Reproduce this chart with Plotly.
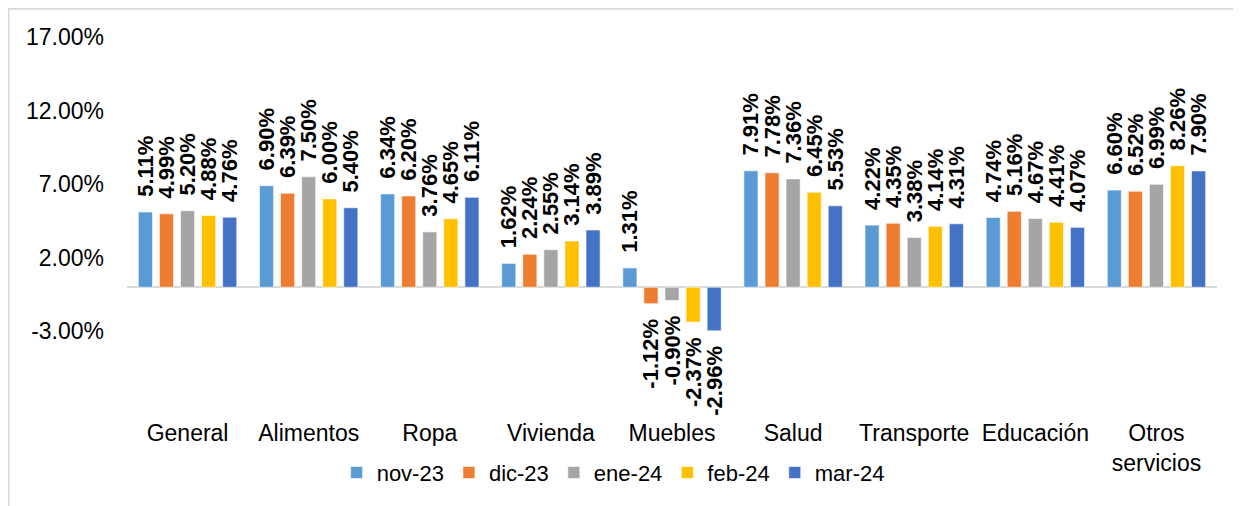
import plotly.graph_objects as go

categorias = ["General", "Alimentos", "Ropa", "Vivienda", "Muebles", "Salud",
              "Transporte", "Educación", "Otros<br>servicios"]
meses = ["nov-23", "dic-23", "ene-24", "feb-24", "mar-24"]

nov_23 = [5.11, 6.90, 6.34, 1.62, 1.31, 7.91, 4.22, 4.74, 6.60]
dic_23 = [4.99, 6.39, 6.20, 2.24, -1.12, 7.78, 4.35, 5.16, 6.52]
ene_24 = [5.20, 7.50, 3.76, 2.55, -0.90, 7.36, 3.38, 4.67, 6.99]
feb_24 = [4.88, 6.00, 4.65, 3.14, -2.37, 6.45, 4.14, 4.41, 8.26]
mar_24 = [4.76, 5.40, 6.11, 3.89, -2.96, 5.53, 4.31, 4.07, 7.90]

series = [nov_23, dic_23, ene_24, feb_24, mar_24]
colores = ["#5B9BD5", "#ED7D31", "#A5A5A5", "#FFC000", "#4472C4"]

y_ticks = [-3, 2, 7, 12, 17]
y_ticktext = [f"{v:.2f}%" for v in y_ticks]

FONT = "Arial, Liberation Sans, sans-serif"
pad = "\u00a0\u00a0"


def etiqueta(v):
    s = f"{v:.2f}%"
    return pad + s if v >= 0 else s + pad


fig = go.Figure()
for mes, vals, col in zip(meses, series, colores):
    fig.add_trace(go.Bar(
        name=mes,
        x=categorias,
        y=vals,
        marker=dict(color=col, line=dict(color="rgba(255,255,255,0.6)", width=1)),
        text=[etiqueta(v) for v in vals],
        textposition="outside",
        textangle=-90,
        constraintext="none",
        cliponaxis=False,
        textfont=dict(family=FONT, size=22, color="black", weight="bold"),
    ))

# la página tiene ~8px de margen del body, se compensa en los márgenes
fig.update_layout(
    width=1233, height=498,
    barmode="group",
    bargap=0.13,
    bargroupgap=0.33,
    plot_bgcolor="white",
    paper_bgcolor="white",
    font=dict(family=FONT, size=23, color="black"),
    margin=dict(l=119, r=24, t=29, b=99),
    showlegend=True,
    legend=dict(orientation="h", x=0.446, xanchor="center", y=-0.184, yanchor="middle",
                font=dict(size=22), traceorder="normal", itemwidth=30),
    xaxis=dict(showline=False, showgrid=False, ticks="", ticklabelstandoff=12),
    yaxis=dict(range=[-8, 17], tickvals=y_ticks, ticktext=y_ticktext,
               showgrid=False, showline=False, zeroline=True,
               zerolinecolor="#D9D9D9", zerolinewidth=2, ticklabelstandoff=22),
    shapes=[dict(type="rect", xref="paper", yref="paper",
                 x0=-0.1087, x1=1.05, y0=-0.35, y1=1.077,
                 line=dict(color="#D9D9D9", width=2), layer="below")],
)

fig.write_html("out.html")
